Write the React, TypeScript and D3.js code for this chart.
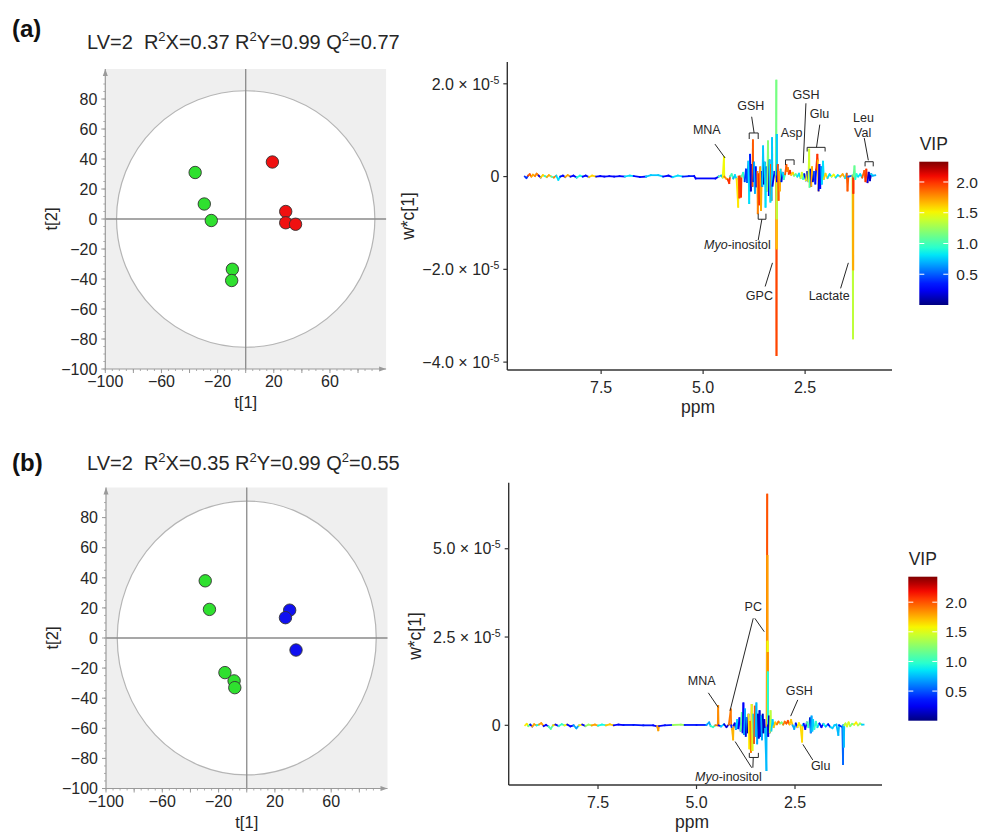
import React from 'react';
import * as d3 from 'd3';

// ---------- score plot data ----------
const t1A = [-36, -29.5, -24.5, -9.5, -10, 19, 28.5, 28.5, 35.5];
const t2A = [31, 10, -1, -33.5, -41, 38, 5, -2.5, -3.5];
const grpA = ['g', 'g', 'g', 'g', 'g', 'r', 'r', 'r', 'r'];
const t1B = [-29.5, -26.5, -15.5, -9, -8.5, 30.5, 27.5, 35];
const t2B = [38, 19, -23, -28.5, -33, 18.5, 13.5, -8];
const grpB = ['g', 'g', 'g', 'g', 'g', 'b', 'b', 'b'];
const scoreXTickLabels = [-100, -60, -20, 20, 60];
const scoreYTickLabels = [-100, -80, -60, -40, -20, 0, 20, 40, 60, 80];

// ---------- spectrum (a): ppm, w*c[1] (x1e-5), VIP ----------
const ppmA = [9.37, 9.33, 9.29, 9.25, 9.21, 9.17, 9.12, 9.08, 9.03, 8.98, 8.93, 8.88, 8.83, 8.78, 8.72, 8.66, 8.6, 8.55, 8.5, 8.44, 8.38, 8.32, 8.25, 8.18, 8.1, 8.02, 7.95, 7.88, 7.8, 7.72, 7.62, 7.52, 7.42, 7.3, 7.18, 7.05, 6.92, 6.8, 6.7, 6.55, 6.4, 6.28, 6.1, 5.98, 5.85, 5.75, 5.62, 5.5, 5.35, 5.22, 5.18, 4.7, 4.62, 4.56, 4.52, 4.49, 4.48, 4.44, 4.4, 4.36, 4.34, 4.3, 4.26, 4.22, 4.18, 4.14, 4.13, 4.11, 4.1, 4.07, 4.06, 4.02, 3.98, 3.95, 3.92, 3.89, 3.87, 3.85, 3.83, 3.81, 3.79, 3.78, 3.77, 3.75, 3.73, 3.71, 3.69, 3.67, 3.66, 3.64, 3.62, 3.6, 3.58, 3.56, 3.55, 3.53, 3.51, 3.49, 3.47, 3.45, 3.43, 3.41, 3.39, 3.37, 3.35, 3.34, 3.32, 3.31, 3.3, 3.25, 3.215, 3.205, 3.203, 3.201, 3.199, 3.198, 3.197, 3.196, 3.195, 3.194, 3.192, 3.19, 3.17, 3.15, 3.14, 3.12, 3.1, 3.08, 3.05, 3.02, 2.99, 2.96, 2.94, 2.92, 2.9, 2.87, 2.84, 2.8, 2.77, 2.73, 2.69, 2.65, 2.61, 2.58, 2.55, 2.52, 2.48, 2.45, 2.42, 2.4, 2.39, 2.37, 2.35, 2.33, 2.31, 2.28, 2.25, 2.23, 2.2, 2.19, 2.17, 2.15, 2.13, 2.11, 2.09, 2.06, 2.04, 2.0, 1.95, 1.9, 1.85, 1.8, 1.75, 1.7, 1.64, 1.58, 1.52, 1.48, 1.46, 1.44, 1.34, 1.325, 1.323, 1.321, 1.319, 1.317, 1.315, 1.29, 1.27, 1.24, 1.2, 1.15, 1.1, 1.05, 1.02, 1.0, 0.97, 0.94, 0.91, 0.88, 0.84, 0.78];
const valA = [0, -0.03, 0.02, 0.05, 0, 0.04, 0.01, 0.06, 0.02, -0.02, 0.03, 0.01, -0.01, 0.03, 0, -0.02, 0.02, -0.07, 0, 0.02, -0.01, 0.03, 0, 0.02, -0.02, 0.02, 0, 0.02, -0.01, 0.02, 0, 0.01, 0, 0.01, 0, 0.01, 0, 0.02, 0.01, -0.01, 0, 0.03, 0.03, 0, 0.02, -0.01, 0.02, 0, 0.01, 0.01, -0.04, -0.04, 0, 0.02, -0.02, 0.42, 0, -0.04, -0.06, -0.14, 0, 0.05, -0.04, 0.03, -0.05, -0.65, 0, -0.45, 0, -0.43, 0, 0.08, -0.1, 0.15, -0.12, 0.32, -0.57, 0.47, -0.3, 0.25, -0.2, 0.78, -0.1, 0.3, -0.35, 0.2, -0.21, 0.1, -0.79, 0.05, -0.6, 0.2, -0.72, 0.1, -0.2, 0.65, -0.15, 0.3, -0.65, 0.2, -0.3, 0.76, -0.4, 0.35, -0.54, 0.25, -0.5, 0.83, -0.2, 0.1, 0, 2.07, 0, -3.85, 0, -1.55, 0, -0.9, 0, 0.9, 0, -0.1, 0.25, -0.5, 0.1, -0.3, 0.15, -0.1, 0.08, -0.05, 0.05, 0.25, 0.12, 0.18, 0.06, 0.12, 0.04, 0.08, 0.02, 0.05, 0, 0.06, -0.03, 0.08, -0.05, 0.05, -0.08, 0.1, -0.1, 0.58, -0.22, 0.15, -0.2, 0.2, -0.1, 0.1, -0.15, 0.15, 0.47, 0.35, -0.3, 0.25, -0.25, 0.2, -0.15, 0.32, -0.05, 0.06, -0.03, 0.05, 0, 0.04, -0.02, 0.03, 0, 0.05, -0.03, 0.06, -0.3, 0, 0.02, -3.49, 0, -2.0, 0, -0.35, 0, 0.22, -0.05, 0.05, 0, 0.05, -0.02, 0.12, -0.1, 0.15, -0.12, 0.08, -0.08, 0.05, 0.02, 0.03];
const vipA = [0.9, 0.4, 1.6, 1.9, 0.3, 1.7, 0.3, 1.8, 1.2, 0.3, 1.6, 0.3, 0.9, 1.7, 0.3, 1.0, 1.8, 0.8, 0.3, 0.3, 0.3, 1.7, 0.3, 0.3, 0.3, 0.9, 0.3, 0.3, 0.3, 1.6, 0.3, 0.3, 0.3, 0.3, 0.3, 0.3, 0.3, 0.8, 0.3, 0.3, 0.3, 0.75, 0.75, 0.3, 0.3, 0.3, 0.8, 0.8, 0.35, 0.35, 0.3, 0.3, 0.8, 1.0, 0.7, 1.5, 1.5, 1.8, 1.7, 2.0, 0.8, 1.0, 0.7, 1.1, 0.8, 1.55, 1.0, 1.95, 1.9, 2.0, 1.0, 1.1, 0.9, 0.4, 0.3, 0.5, 0.8, 0.3, 0.15, 0.2, 0.6, 1.9, 0.4, 0.2, 0.7, 0.15, 0.3, 0.5, 1.8, 1.9, 2.0, 1.5, 1.7, 1.4, 0.2, 0.75, 0.2, 0.1, 0.8, 0.2, 0.5, 1.2, 0.2, 0.1, 0.8, 0.15, 1.9, 0.75, 0.2, 0.4, 0.3, 1.15, 1.15, 1.95, 1.95, 1.65, 1.6, 1.35, 1.3, 0.75, 0.5, 0.4, 0.2, 1.9, 0.5, 1.7, 0.8, 0.2, 0.8, 0.3, 1.0, 1.9, 2.0, 1.8, 1.6, 2.0, 1.2, 1.6, 0.9, 1.1, 0.3, 0.8, 0.2, 1.4, 0.3, 0.9, 0.2, 1.5, 0.3, 1.4, 1.0, 0.2, 0.2, 1.7, 0.3, 0.2, 0.5, 0.3, 2.0, 1.7, 0.2, 0.15, 0.3, 0.6, 0.2, 0.8, 0.3, 1.6, 0.3, 0.8, 0.3, 1.5, 0.3, 0.8, 0.3, 1.7, 0.4, 0.8, 1.9, 1.4, 0.5, 1.35, 1.35, 1.7, 1.7, 2.0, 0.8, 1.1, 0.7, 0.9, 1.4, 0.8, 1.5, 1.9, 0.2, 2.0, 0.2, 1.2, 0.15, 0.8, 1.4, 0.7];

// ---------- spectrum (b) ----------
const ppmB = [9.35, 9.31, 9.27, 9.22, 9.17, 9.12, 9.06, 9.0, 8.94, 8.88, 8.82, 8.76, 8.7, 8.64, 8.58, 8.5, 8.42, 8.35, 8.28, 8.2, 8.12, 8.05, 7.98, 7.9, 7.82, 7.74, 7.66, 7.58, 7.5, 7.4, 7.3, 7.2, 7.1, 6.98, 6.85, 6.6, 6.35, 6.1, 6.0, 5.97, 5.95, 5.8, 5.6, 5.4, 5.3, 5.0, 4.75, 4.68, 4.64, 4.58, 4.52, 4.46, 4.45, 4.44, 4.38, 4.3, 4.24, 4.18, 4.13, 4.12, 4.1, 4.07, 4.06, 4.03, 4.0, 3.97, 3.94, 3.91, 3.88, 3.85, 3.83, 3.81, 3.79, 3.77, 3.75, 3.73, 3.7, 3.68, 3.66, 3.64, 3.62, 3.6, 3.58, 3.56, 3.54, 3.52, 3.5, 3.48, 3.46, 3.44, 3.42, 3.4, 3.38, 3.36, 3.34, 3.32, 3.3, 3.28, 3.26, 3.225, 3.22, 3.205, 3.203, 3.201, 3.199, 3.197, 3.195, 3.193, 3.191, 3.189, 3.187, 3.18, 3.16, 3.14, 3.12, 3.1, 3.07, 3.04, 3.0, 2.96, 2.92, 2.88, 2.84, 2.8, 2.76, 2.72, 2.68, 2.64, 2.6, 2.56, 2.52, 2.48, 2.44, 2.4, 2.36, 2.32, 2.31, 2.28, 2.24, 2.2, 2.16, 2.12, 2.1, 2.08, 2.06, 2.04, 2.01, 1.97, 1.93, 1.88, 1.83, 1.78, 1.72, 1.66, 1.6, 1.55, 1.5, 1.45, 1.4, 1.38, 1.3, 1.28, 1.275, 1.26, 1.25, 1.22, 1.18, 1.14, 1.1, 1.05, 1.0, 0.95, 0.9, 0.85, 0.8, 0.76];
const valB = [0, 0.04, -0.02, 0.02, -0.03, 0.03, 0, 0.02, 0.06, -0.02, 0.01, -0.03, -0.1, 0, 0.02, -0.02, 0.03, 0, 0.02, -0.03, 0, -0.08, 0, 0.02, -0.02, 0.02, 0, 0.02, -0.01, 0.02, 0, 0.03, 0, 0.02, 0.01, 0.01, 0, 0, -0.03, -0.14, -0.02, 0, 0.01, 0.02, 0.01, 0.01, 0.01, 0.08, -0.02, -0.05, 0, 0, 0.55, 0, -0.03, 0.03, -0.05, 0.02, 0.45, 0, -0.1, -0.4, 0, 0.05, -0.1, 0.15, -0.08, 0.2, -0.15, 0.35, -0.2, 0.62, -0.25, 0.45, -0.3, 0.2, -0.2, 0.3, -0.65, 0.1, -0.75, 0.58, -0.7, 0.3, -0.5, 0.53, -0.3, 0.62, -0.51, 0.3, -0.35, 0.4, -0.3, 0.25, -0.4, 0.3, -0.2, 0.15, -0.1, -1.27, 0, 6.53, 0, 4.8, 0, 2.37, 0, 2.05, 0, 1.5, 0, -0.3, 0.25, -0.2, 0.4, -0.15, 0.15, -0.05, 0.08, 0.03, 0.1, 0.05, 0.08, 0.02, 0.1, 0.05, 0.12, 0.03, 0.15, 0, -0.1, 0.05, -0.05, 0.06, -0.02, -0.46, 0, 0.04, -0.1, 0.08, -0.05, 0.2, -0.2, 0.25, -0.15, 0.15, -0.1, 0.1, -0.05, 0.05, -0.05, 0.04, -0.03, 0.03, -0.05, -0.08, 0, 0.02, -0.27, 0, -0.05, -1.1, 0, -0.6, 0, 0.05, -0.03, 0.08, -0.02, 0.04, 0.02, 0.08, 0, 0.05, 0.02, 0.02];
const vipB = [1.4, 1.6, 0.3, 1.1, 0.3, 1.8, 0.3, 0.9, 1.8, 0.3, 1.5, 0.3, 1.1, 0.3, 1.7, 0.3, 1.0, 0.3, 1.6, 0.3, 0.8, 0.7, 0.3, 1.6, 0.3, 1.3, 0.3, 1.8, 0.3, 0.9, 0.3, 1.7, 0.3, 0.3, 0.35, 0.35, 0.35, 0.35, 0.3, 1.8, 0.3, 0.35, 0.35, 1.3, 0.35, 0.35, 0.35, 0.7, 0.4, 1.0, 0.3, 1.9, 1.85, 1.8, 0.3, 0.8, 0.2, 0.5, 1.9, 1.9, 0.4, 1.75, 1.5, 0.3, 0.2, 0.8, 0.2, 0.3, 0.15, 1.1, 0.2, 0.3, 0.15, 0.7, 0.2, 0.15, 0.6, 0.1, 1.6, 0.2, 1.9, 0.9, 1.5, 0.2, 0.8, 2.0, 0.1, 0.75, 0.7, 0.15, 0.1, 0.2, 0.2, 0.1, 0.7, 0.15, 0.1, 0.2, 0.15, 0.75, 0.7, 2.0, 2.0, 1.8, 1.8, 1.55, 1.55, 1.85, 1.85, 0.95, 0.7, 0.2, 0.15, 1.2, 1.4, 0.3, 0.8, 0.2, 1.7, 0.8, 1.9, 1.6, 1.2, 0.3, 1.9, 1.4, 2.0, 0.8, 1.7, 0.3, 0.7, 1.3, 0.3, 1.6, 0.3, 1.65, 1.5, 0.8, 0.3, 1.1, 0.2, 1.0, 0.2, 0.7, 0.15, 0.8, 0.2, 1.0, 0.2, 0.8, 0.3, 0.9, 0.2, 0.7, 0.3, 0.8, 0.2, 0.8, 0.75, 0.3, 0.4, 0.55, 0.6, 0.75, 0.5, 1.4, 0.3, 1.5, 0.8, 1.2, 0.75, 1.6, 0.8, 1.3, 0.75, 0.8];

const specTicksA = [2, 0, -2, -4];
const specTicksB = [5, 2.5, 0];
const ppmTicks = [7.5, 5.0, 2.5];
const vipTicks = [0.5, 1.0, 1.5, 2.0];

// annotations: label, text anchor [ppm,val], leader lines [ppm1,val1,ppm2,val2], bracket [ppmL,ppmR,valOpen,valClosed]
type Ann = { label: string; italic?: string; at: number[]; lines?: number[][]; bracket?: number[] };
const annA: Ann[] = [
  { label: 'MNA', at: [4.91, 1.01], lines: [[4.71, 0.7, 4.46, 0.4]] },
  { label: 'GSH', at: [3.83, 1.53], lines: [[3.81, 1.29, 3.75, 0.94]], bracket: [3.87, 3.65, 0.81, 0.94] },
  { label: 'GSH', at: [2.48, 1.76], lines: [[2.48, 1.58, 2.545, 0.29]] },
  { label: 'Glu', at: [2.15, 1.35], lines: [[2.14, 1.12, 2.22, 0.63]], bracket: [2.45, 2.01, 0.54, 0.63] },
  { label: 'Asp', at: [2.83, 0.95], bracket: [2.98, 2.77, 0.25, 0.36] },
  { label: 'Leu', at: [1.07, 1.27] },
  { label: 'Val', at: [1.09, 0.96], lines: [[1.05, 0.83, 0.95, 0.35]], bracket: [1.03, 0.83, 0.22, 0.32] },
  { label: '-inositol', italic: 'Myo', at: [4.16, -1.47], lines: [[3.65, -1.37, 3.56, -0.92]], bracket: [3.65, 3.46, -0.8, -0.92] },
  { label: 'GPC', at: [3.62, -2.57], lines: [[3.48, -2.37, 3.3, -1.86]] },
  { label: 'Lactate', at: [1.91, -2.57], lines: [[1.63, -2.41, 1.44, -1.86]] },
];
const annB: Ann[] = [
  { label: 'MNA', at: [4.87, 1.28], lines: [[4.7, 0.92, 4.45, 0.51]] },
  { label: 'PC', at: [3.56, 3.36], lines: [[3.56, 3.03, 4.15, 0.41], [3.52, 3.03, 3.28, 2.65]] },
  { label: 'GSH', at: [2.39, 0.98], lines: [[2.43, 0.72, 2.61, 0.26]] },
  { label: 'Glu', at: [1.85, -1.15], lines: [[2.05, -0.98, 2.3, -0.54]] },
  { label: '-inositol', italic: 'Myo', at: [4.19, -1.44], lines: [[3.6, -1.2, 4.02, -0.46], [3.57, -1.2, 3.56, -0.91]], bracket: [3.66, 3.43, -0.78, -0.91] },
];

const FONT = 'Liberation Sans, Arial, Helvetica, sans-serif';
const TXT = '#262626';

// jet colormap built from linear scales
const jetR = d3.scaleLinear().domain([0, 0.35, 0.66, 0.89, 1]).range([0, 0, 1, 1, 0.5]).clamp(true);
const jetG = d3.scaleLinear().domain([0, 0.125, 0.375, 0.64, 0.91, 1]).range([0, 0, 1, 1, 0, 0]).clamp(true);
const jetB = d3.scaleLinear().domain([0, 0.11, 0.34, 0.65, 1]).range([0.5, 1, 1, 0, 0]).clamp(true);
const jet = (t: number) => d3.rgb(jetR(t) * 255, jetG(t) * 255, jetB(t) * 255).formatHex();

const minus = (v: number) => String(v).replace('-', '\u2212');

function ScorePlot({ left, right, top, bottom, t1, t2, grp, rx, ry }: any) {
  const x = d3.scaleLinear().domain([-100, 100]).range([left, right]);
  const y = d3.scaleLinear().domain([-100, 100]).range([bottom, top]);
  const fill: any = { g: '#2fe02f', r: '#f01010', b: '#1010f0' };
  const minor = d3.range(-100, 100.1, 5);
  const major = d3.range(-100, 100, 20);
  const axisCol = '#9a9a9a';
  return (
    <g>
      <rect x={left} y={top} width={right - left} height={bottom - top} fill="#efefef" />
      <ellipse cx={x(0)} cy={y(0)} rx={x(rx) - x(0)} ry={y(0) - y(ry)} fill="#fff" stroke="#b5b5b5" strokeWidth={1.2} />
      <line x1={x(0)} x2={x(0)} y1={top} y2={bottom} stroke="#8a8a8a" strokeWidth={1.3} />
      <line x1={left} x2={right} y1={y(0)} y2={y(0)} stroke="#8a8a8a" strokeWidth={1.3} />
      <line x1={left} x2={left} y1={bottom} y2={top} stroke={axisCol} strokeWidth={1.2} />
      <path d={`M${left - 2.5},${top + 7}L${left},${top}L${left + 2.5},${top + 7}Z`} fill={axisCol} />
      <line x1={left} x2={right} y1={bottom} y2={bottom} stroke={axisCol} strokeWidth={1.2} />
      <path d={`M${right - 7},${bottom - 2.5}L${right},${bottom}L${right - 7},${bottom + 2.5}Z`} fill={axisCol} />
      {minor.filter((v) => v < 95).map((v) => (
        <line key={'ym' + v} x1={left - 2} x2={left} y1={y(v)} y2={y(v)} stroke={axisCol} strokeWidth={0.8} />
      ))}
      {minor.filter((v) => v < 95).map((v) => (
        <line key={'xm' + v} x1={x(v)} x2={x(v)} y1={bottom} y2={bottom + 2} stroke={axisCol} strokeWidth={0.8} />
      ))}
      {major.map((v) => (
        <line key={'yM' + v} x1={left - 4} x2={left} y1={y(v)} y2={y(v)} stroke={axisCol} strokeWidth={1} />
      ))}
      {major.map((v) => (
        <line key={'xM' + v} x1={x(v)} x2={x(v)} y1={bottom} y2={bottom + 4} stroke={axisCol} strokeWidth={1} />
      ))}
      {scoreYTickLabels.map((v) => (
        <text key={'yl' + v} x={left - 8} y={y(v)} dy="0.36em" textAnchor="end" fontSize={16} fill={TXT} fontFamily={FONT}>{minus(v)}</text>
      ))}
      {scoreXTickLabels.map((v) => (
        <text key={'xl' + v} x={x(v)} y={bottom + 18} textAnchor="middle" fontSize={16} fill={TXT} fontFamily={FONT}>{minus(v)}</text>
      ))}
      <text x={(left + right) / 2} y={bottom + 39} textAnchor="middle" fontSize={16.5} fill={TXT} fontFamily={FONT}>t[1]</text>
      <text transform={`translate(${left - 48},${(top + bottom) / 2}) rotate(-90)`} textAnchor="middle" fontSize={16.5} fill={TXT} fontFamily={FONT}>t[2]</text>
      {t1.map((v: number, i: number) => (
        <circle key={'p' + i} cx={x(v)} cy={y(t2[i])} r={6.2} fill={fill[grp[i]]} stroke="#333" strokeWidth={0.9} />
      ))}
    </g>
  );
}

function Spectrum({ ppm, val, vip, xL, xR, ppmL, ppmR, yT, yB, vT, vB, ticks, vipMax, ann, axisTop }: any) {
  const x = d3.scaleLinear().domain([ppmL, ppmR]).range([xL, xR]);
  const y = d3.scaleLinear().domain([vB, vT]).range([yB, yT]);
  const c = d3.scaleLinear().domain([0, vipMax]).range([0, 1]).clamp(true);
  const segs = d3.range(ppm.length - 1).map((i) => {
    const j = Math.abs(val[i + 1]) >= Math.abs(val[i]) ? i + 1 : i;
    return { x1: x(ppm[i]), y1: y(val[i]), x2: x(ppm[i + 1]), y2: y(val[i + 1]), col: jet(c(vip[j])) };
  });
  return (
    <g fontFamily={FONT}>
      {segs.map((s, i) => (
        <line key={i} x1={s.x1} y1={s.y1} x2={s.x2} y2={s.y2} stroke={s.col} strokeWidth={1.8} strokeLinecap="square" />
      ))}
      <line x1={xL} x2={xL} y1={axisTop} y2={yB} stroke="#333" strokeWidth={1.4} />
      <line x1={xL} x2={xR} y1={yB} y2={yB} stroke="#333" strokeWidth={1.4} />
      {ticks.map((v: number) => (
        <g key={'t' + v}>
          <line x1={xL - 4} x2={xL} y1={y(v)} y2={y(v)} stroke="#333" strokeWidth={1.2} />
          <text x={xL - 8} y={y(v)} dy="0.36em" textAnchor="end" fontSize={16} fill={TXT}>
            {v === 0 ? '0' : (
              <>
                {(v < 0 ? '\u2212' : '') + Math.abs(v).toFixed(1) + ' \u00d7 10'}
                <tspan dy="-6" fontSize={10.5}>-5</tspan>
              </>
            )}
          </text>
        </g>
      ))}
      {ppmTicks.map((v) => (
        <g key={'p' + v}>
          <line x1={x(v)} x2={x(v)} y1={yB} y2={yB + 4} stroke="#333" strokeWidth={1.2} />
          <text x={x(v)} y={yB + 23} textAnchor="middle" fontSize={16} fill={TXT}>{v.toFixed(1)}</text>
        </g>
      ))}
      {ann.map((a: Ann, k: number) => (
        <g key={'a' + k} stroke={TXT} fill="none" strokeWidth={1}>
          {(a.lines || []).map((l, m) => (
            <line key={m} x1={x(l[0])} y1={y(l[1])} x2={x(l[2])} y2={y(l[3])} />
          ))}
          {a.bracket && (
            <path d={`M${x(a.bracket[0])},${y(a.bracket[2])}V${y(a.bracket[3])}H${x(a.bracket[1])}V${y(a.bracket[2])}`} />
          )}
          <text x={x(a.at[0])} y={y(a.at[1])} dy="0.36em" textAnchor="middle" fontSize={12.5} fill={TXT} stroke="none">
            {a.italic && <tspan fontStyle="italic">{a.italic}</tspan>}
            {a.label}
          </text>
        </g>
      ))}
    </g>
  );
}

function ColorBar({ id, left, top, bottom, vipMax }: any) {
  const w = 29;
  const y = d3.scaleLinear().domain([0, vipMax]).range([bottom, top]);
  const stops = d3.range(0, 1.0001, 0.05);
  return (
    <g fontFamily={FONT}>
      <defs>
        <linearGradient id={id} x1="0" y1="1" x2="0" y2="0">
          {stops.map((s) => (
            <stop key={s} offset={s} stopColor={jet(s)} />
          ))}
        </linearGradient>
      </defs>
      <text x={left + w / 2} y={top - 12} textAnchor="middle" fontSize={17.5} fill={TXT}>VIP</text>
      <rect x={left} y={top} width={w} height={bottom - top} fill={`url(#${id})`} />
      {vipTicks.map((v) => (
        <g key={v}>
          <line x1={left} x2={left + 5} y1={y(v)} y2={y(v)} stroke="#fff" strokeWidth={1} />
          <line x1={left + w - 5} x2={left + w} y1={y(v)} y2={y(v)} stroke="#fff" strokeWidth={1} />
          <text x={left + w + 8} y={y(v)} dy="0.36em" fontSize={15.5} fill={TXT}>{v.toFixed(1)}</text>
        </g>
      ))}
    </g>
  );
}

function Title({ x, y, r2x, r2y, q2 }: any) {
  return (
    <text x={x} y={y} fontSize={20} fill={TXT} fontFamily={FONT} style={{ whiteSpace: 'pre' }}>
      {'LV=2  R'}
      <tspan dy={-7.5} fontSize={13}>2</tspan>
      <tspan dy={7.5}>{'X=' + r2x + ' R'}</tspan>
      <tspan dy={-7.5} fontSize={13}>2</tspan>
      <tspan dy={7.5}>{'Y=' + r2y + ' Q'}</tspan>
      <tspan dy={-7.5} fontSize={13}>2</tspan>
      <tspan dy={7.5}>{'=' + q2}</tspan>
    </text>
  );
}

export default function App() {
  return (
    <svg width={981} height={832} viewBox="0 0 981 832" style={{ position: 'absolute', left: 0, top: 0, background: '#fff' }}>
      <rect width={981} height={832} fill="#fff" />
      <text x={12} y={37} fontSize={24} fontWeight="bold" fill="#111" fontFamily={FONT}>(a)</text>
      <text x={12} y={471} fontSize={24} fontWeight="bold" fill="#111" fontFamily={FONT}>(b)</text>
      <Title x={87} y={48.5} r2x="0.37" r2y="0.99" q2="0.77" />
      <Title x={87} y={469.5} r2x="0.35" r2y="0.99" q2="0.55" />
      <ScorePlot left={105.3} right={386.1} top={69} bottom={369} t1={t1A} t2={t2A} grp={grpA} rx={92} ry={85.5} />
      <ScorePlot left={106} right={387.5} top={487.5} bottom={788.5} t1={t1B} t2={t2B} grp={grpB} rx={92} ry={91} />
      <Spectrum ppm={ppmA} val={valA} vip={vipA} xL={507.3} xR={892} ppmL={9.8} ppmR={0.37} yT={62} yB={370} vT={2.47} vB={-4.17} ticks={specTicksA} vipMax={2.33} ann={annA} axisTop={62} />
      <Spectrum ppm={ppmB} val={valB} vip={vipB} xL={508.7} xR={882} ppmL={9.767} ppmR={0.292} yT={482.7} yB={785} vT={6.87} vB={-1.69} ticks={specTicksB} vipMax={2.43} ann={annB} axisTop={482.7} />
      <text transform="translate(414,216) rotate(-90)" textAnchor="middle" fontSize={17.5} fill={TXT} fontFamily={FONT}>w*c[1]</text>
      <text transform="translate(421,636) rotate(-90)" textAnchor="middle" fontSize={17.5} fill={TXT} fontFamily={FONT}>w*c[1]</text>
      <text x={698} y={413} textAnchor="middle" fontSize={17.5} fill={TXT} fontFamily={FONT}>ppm</text>
      <text x={692} y={828} textAnchor="middle" fontSize={17.5} fill={TXT} fontFamily={FONT}>ppm</text>
      <ColorBar id="cbA" left={919.3} top={161.7} bottom={305} vipMax={2.33} />
      <ColorBar id="cbB" left={908.3} top={576.7} bottom={720.7} vipMax={2.43} />
    </svg>
  );
}
